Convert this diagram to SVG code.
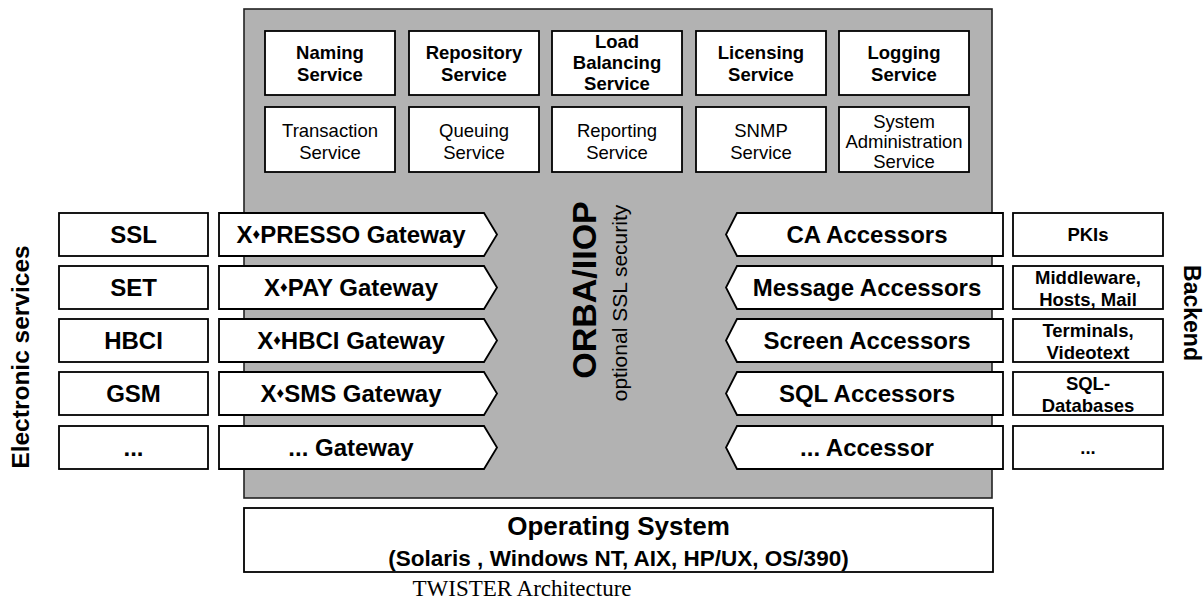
<svg xmlns="http://www.w3.org/2000/svg" width="1204" height="605" viewBox="0 0 1204 605">
  <style>
    .bg { fill: #ffffff; }
    .core { fill: #b2b2b2; stroke: #222; stroke-width: 1.6; }
    .box { fill: #ffffff; stroke: #000; stroke-width: 1.8; }
    text { font-family: "Liberation Sans", Arial, sans-serif; fill: #000; text-anchor: middle; }
    .sb { font-size: 18.5px; font-weight: bold; }
    .sn { font-size: 18.5px; }
    .lb { font-size: 24px; font-weight: bold; }
    .rb { font-size: 18.5px; font-weight: bold; }
    .dia { font-size: 15px; }
    .cap { font-family: "Liberation Serif", "Times New Roman", serif; font-size: 23px; }
  </style>
  <rect class="bg" x="0" y="0" width="1204" height="605"/>

  <!-- ORB core area -->
  <g id="orb-core">
    <rect class="core" x="244" y="9" width="748" height="489"/>
    <text class="lb" style="font-size:34px" transform="translate(596,290) rotate(-90)">ORBA/IIOP</text>
    <text style="font-size:21px" transform="translate(627,303) rotate(-90)">optional SSL security</text>
  </g>

  <!-- CORBA services, top row (bold) -->
  <g id="svc-naming">
    <rect class="box" x="265" y="31" width="130" height="64"/>
    <text class="sb" x="330" y="59">Naming</text>
    <text class="sb" x="330" y="81">Service</text>
  </g>
  <g id="svc-repository">
    <rect class="box" x="409" y="31" width="130" height="64"/>
    <text class="sb" x="474" y="59">Repository</text>
    <text class="sb" x="474" y="81">Service</text>
  </g>
  <g id="svc-loadbalancing">
    <rect class="box" x="552" y="31" width="130" height="64"/>
    <text class="sb" x="617" y="48">Load</text>
    <text class="sb" x="617" y="69">Balancing</text>
    <text class="sb" x="617" y="90">Service</text>
  </g>
  <g id="svc-licensing">
    <rect class="box" x="696" y="31" width="130" height="64"/>
    <text class="sb" x="761" y="59">Licensing</text>
    <text class="sb" x="761" y="81">Service</text>
  </g>
  <g id="svc-logging">
    <rect class="box" x="839" y="31" width="130" height="64"/>
    <text class="sb" x="904" y="59">Logging</text>
    <text class="sb" x="904" y="81">Service</text>
  </g>

  <!-- CORBA services, second row (regular) -->
  <g id="svc-transaction">
    <rect class="box" x="265" y="107" width="130" height="65"/>
    <text class="sn" x="330" y="137">Transaction</text>
    <text class="sn" x="330" y="159">Service</text>
  </g>
  <g id="svc-queuing">
    <rect class="box" x="409" y="107" width="130" height="65"/>
    <text class="sn" x="474" y="137">Queuing</text>
    <text class="sn" x="474" y="159">Service</text>
  </g>
  <g id="svc-reporting">
    <rect class="box" x="552" y="107" width="130" height="65"/>
    <text class="sn" x="617" y="137">Reporting</text>
    <text class="sn" x="617" y="159">Service</text>
  </g>
  <g id="svc-snmp">
    <rect class="box" x="696" y="107" width="130" height="65"/>
    <text class="sn" x="761" y="137">SNMP</text>
    <text class="sn" x="761" y="159">Service</text>
  </g>
  <g id="svc-sysadmin">
    <rect class="box" x="839" y="107" width="130" height="65"/>
    <text class="sn" x="904" y="128">System</text>
    <text class="sn" x="904" y="148">Administration</text>
    <text class="sn" x="904" y="168">Service</text>
  </g>

  <!-- Electronic services column -->
  <text id="lbl-electronic" class="lb" style="font-size:24.5px" transform="translate(29,357) rotate(-90)">Electronic services</text>
  <g id="es-ssl"><rect class="box" x="59" y="213" width="149" height="43"/><text class="lb" x="133.5" y="243">SSL</text></g>
  <g id="es-set"><rect class="box" x="59" y="266" width="149" height="43"/><text class="lb" x="133.5" y="296">SET</text></g>
  <g id="es-hbci"><rect class="box" x="59" y="319" width="149" height="43"/><text class="lb" x="133.5" y="349">HBCI</text></g>
  <g id="es-gsm"><rect class="box" x="59" y="372" width="149" height="43"/><text class="lb" x="133.5" y="402">GSM</text></g>
  <g id="es-more"><rect class="box" x="59" y="426" width="149" height="43"/><text class="lb" x="133.5" y="456">...</text></g>

  <!-- Gateways (pointing into the ORB) -->
  <g id="gw-xpresso">
    <path class="box" d="M219,213 H484 L497,234.5 L484,256 H219 Z"/>
    <text class="lb" x="351" y="243">X<tspan class="dia" dy="-4">♦</tspan><tspan dy="4">PRESSO Gateway</tspan></text>
  </g>
  <g id="gw-xpay">
    <path class="box" d="M219,266 H484 L497,287.5 L484,309 H219 Z"/>
    <text class="lb" x="351" y="296">X<tspan class="dia" dy="-4">♦</tspan><tspan dy="4">PAY Gateway</tspan></text>
  </g>
  <g id="gw-xhbci">
    <path class="box" d="M219,319 H484 L497,340.5 L484,362 H219 Z"/>
    <text class="lb" x="351" y="349">X<tspan class="dia" dy="-4">♦</tspan><tspan dy="4">HBCI Gateway</tspan></text>
  </g>
  <g id="gw-xsms">
    <path class="box" d="M219,372 H484 L497,393.5 L484,415 H219 Z"/>
    <text class="lb" x="351" y="402">X<tspan class="dia" dy="-4">♦</tspan><tspan dy="4">SMS Gateway</tspan></text>
  </g>
  <g id="gw-more">
    <path class="box" d="M219,426 H484 L497,447.5 L484,469 H219 Z"/>
    <text class="lb" x="351" y="456">... Gateway</text>
  </g>

  <!-- Accessors (pointing into the ORB) -->
  <g id="acc-ca">
    <path class="box" d="M1003,213 H737 L726,234.5 L737,256 H1003 Z"/>
    <text class="lb" x="867" y="243">CA Accessors</text>
  </g>
  <g id="acc-message">
    <path class="box" d="M1003,266 H737 L726,287.5 L737,309 H1003 Z"/>
    <text class="lb" x="867" y="296">Message Accessors</text>
  </g>
  <g id="acc-screen">
    <path class="box" d="M1003,319 H737 L726,340.5 L737,362 H1003 Z"/>
    <text class="lb" x="867" y="349">Screen Accessors</text>
  </g>
  <g id="acc-sql">
    <path class="box" d="M1003,372 H737 L726,393.5 L737,415 H1003 Z"/>
    <text class="lb" x="867" y="402">SQL Accessors</text>
  </g>
  <g id="acc-more">
    <path class="box" d="M1003,426 H737 L726,447.5 L737,469 H1003 Z"/>
    <text class="lb" x="867" y="456">... Accessor</text>
  </g>

  <!-- Backend column -->
  <g id="be-pki"><rect class="box" x="1013" y="213" width="150" height="43"/><text class="rb" x="1088" y="241">PKIs</text></g>
  <g id="be-middleware"><rect class="box" x="1013" y="266" width="150" height="43"/><text class="rb" x="1088" y="284">Middleware,</text><text class="rb" x="1088" y="306">Hosts, Mail</text></g>
  <g id="be-terminals"><rect class="box" x="1013" y="319" width="150" height="43"/><text class="rb" x="1088" y="337">Terminals,</text><text class="rb" x="1088" y="359">Videotext</text></g>
  <g id="be-sql"><rect class="box" x="1013" y="372" width="150" height="43"/><text class="rb" x="1088" y="390">SQL-</text><text class="rb" x="1088" y="412">Databases</text></g>
  <g id="be-more"><rect class="box" x="1013" y="426" width="150" height="43"/><text class="rb" x="1088" y="454">...</text></g>
  <text id="lbl-backend" class="lb" style="font-size:23px" transform="translate(1184,313) rotate(90)">Backend</text>

  <!-- Operating system base -->
  <g id="os">
    <rect class="box" x="244" y="508" width="749" height="64"/>
    <text class="lb" style="font-size:26px" x="618.5" y="535">Operating System</text>
    <text class="lb" style="font-size:22.5px" x="618.5" y="566">(Solaris , Windows NT, AIX, HP/UX, OS/390)</text>
  </g>

  <g id="connectors"></g>

  <text class="cap" x="522" y="596">TWISTER Architecture</text>
</svg>
